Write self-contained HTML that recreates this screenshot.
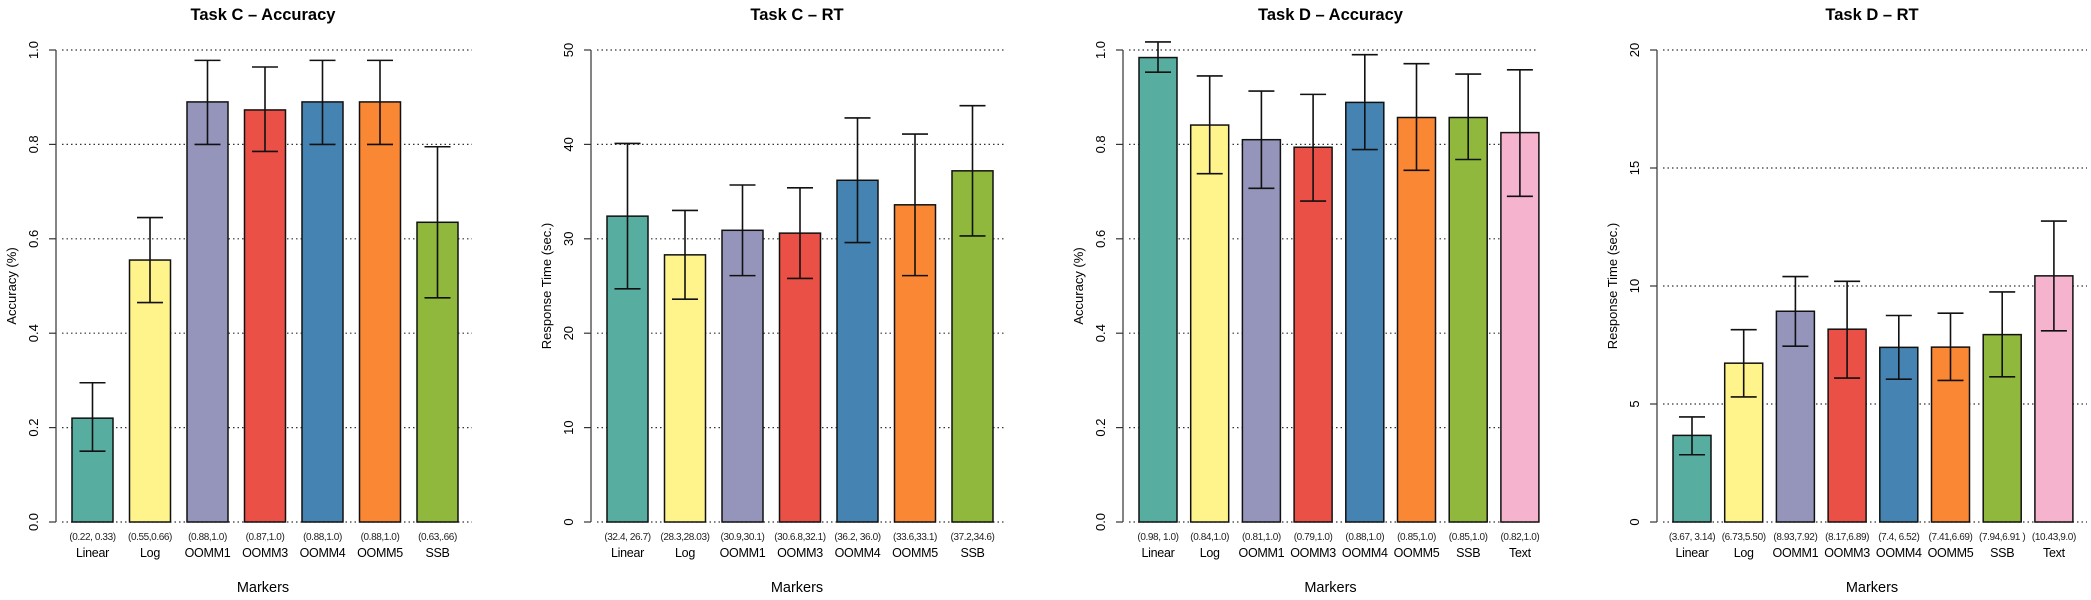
<!DOCTYPE html>
<html><head><meta charset="utf-8"><style>
html,body{margin:0;padding:0;background:#fff}
svg{display:block;font-family:"Liberation Sans",sans-serif}
</style></head><body>
<svg id="chart" width="2091" height="600" viewBox="0 0 2091 600"></svg>
<script>
const NS="http://www.w3.org/2000/svg";
const colors=["#58ADA1","#FFF38C","#9595BB","#EA5045","#4584B2","#F98734","#8FB83C","#F6B3CE"];
const catsC=["Linear","Log","OOMM1","OOMM3","OOMM4","OOMM5","SSB"];
const catsD=["Linear","Log","OOMM1","OOMM3","OOMM4","OOMM5","SSB","Text"];
const accCVals=[0.22,0.555,0.89,0.873,0.89,0.89,0.635];
const accCLo=[0.15,0.465,0.80,0.785,0.80,0.80,0.475];
const accCHi=[0.295,0.645,0.978,0.964,0.978,0.978,0.795];
const accCNotes=["(0.22, 0.33)","(0.55,0.66)","(0.88,1.0)","(0.87,1.0)","(0.88,1.0)","(0.88,1.0)","(0.63,.66)"];
const rtCVals=[32.4,28.3,30.9,30.6,36.2,33.6,37.2];
const rtCLo=[24.7,23.6,26.1,25.8,29.6,26.1,30.3];
const rtCHi=[40.1,33.0,35.7,35.4,42.8,41.1,44.1];
const rtCNotes=["(32.4, 26.7)","(28.3,28.03)","(30.9,30.1)","(30.6.8,32.1)","(36.2, 36.0)","(33.6,33.1)","(37.2,34.6)"];
const accDVals=[0.984,0.841,0.81,0.794,0.889,0.857,0.857,0.825];
const accDLo=[0.953,0.738,0.707,0.68,0.789,0.745,0.768,0.69];
const accDHi=[1.017,0.945,0.913,0.906,0.99,0.971,0.949,0.958];
const accDNotes=["(0.98, 1.0)","(0.84,1.0)","(0.81,1.0)","(0.79,1.0)","(0.88,1.0)","(0.85,1.0)","(0.85,1.0)","(0.82,1.0)"];
const rtDVals=[3.67,6.73,8.93,8.17,7.4,7.41,7.94,10.43];
const rtDLo=[2.85,5.3,7.45,6.1,6.05,6.0,6.15,8.1];
const rtDHi=[4.45,8.15,10.4,10.2,8.75,8.85,9.75,12.75];
const rtDNotes=["(3.67, 3.14)","(6.73,5.50)","(8.93,7.92)","(8.17,6.89)","(7.4, 6.52)","(7.41,6.69)","(7.94,6.91 )","(10.43,9.0)"];
const ticksAcc=["0.0","0.2","0.4","0.6","0.8","1.0"];
const ticksRTC=["0","10","20","30","40","50"];
const ticksRTD=["0","5","10","15","20"];

const svg=document.getElementById("chart");
function mk(tag,attrs,parent,text){const e=document.createElementNS(NS,tag);for(const k in attrs)e.setAttribute(k,attrs[k]);if(text!==undefined)e.textContent=text;(parent||svg).appendChild(e);return e;}

const Y0=522,Y1=50;
function panel(id,title,ytitle,cats,vals,lo,hi,notes,ticks,ymax,axisX,gridEnd,step,bw){
  const g=mk("g",{},svg);
  
  
  const y=v=>Y0-(v/ymax)*(Y0-Y1);
  const bx=i=>axisX+16+i*step;
  const cx=(axisX+gridEnd)/2+ (cats.length===7?-1:0);
  const t=mk("text",{x:cx,y:20,"text-anchor":"middle","font-size":16.5,"font-weight":"bold"},g,title);
  
  
  ticks.forEach(tl=>{
    const v=parseFloat(tl),yy=y(v);
    const gl=mk("line",{x1:axisX+6,x2:gridEnd,y1:yy,y2:yy,stroke:"#333","stroke-width":1.2,"stroke-dasharray":"1.5,3"},g);
    
    
    mk("line",{x1:axisX-7,x2:axisX,y1:yy,y2:yy,stroke:"#333","stroke-width":1.2},g);
    const tt=mk("text",{x:0,y:0,transform:`translate(${axisX-18},${yy}) rotate(-90)`,"text-anchor":"middle","font-size":13},g,tl);
    
    
  });
  const ax=mk("line",{x1:axisX,x2:axisX,y1:Y0,y2:Y1,stroke:"#333","stroke-width":1.2},g);
  
  
  const yt=mk("text",{x:0,y:0,transform:`translate(${axisX-40},${(Y0+Y1)/2}) rotate(-90)`,"text-anchor":"middle","font-size":13},g,ytitle);
  
  
  cats.forEach((c,i)=>{
    const x=bx(i),top=y(vals[i]);
    const r=mk("rect",{x:x,y:top,width:bw,height:Y0-top,fill:colors[i],stroke:"#111","stroke-width":1.5},g);
    
    
    const m=x+bw/2,yl=y(lo[i]),yh=y(hi[i]);
    const e=mk("path",{d:`M${m},${yl}V${yh}M${m-13},${yh}H${m+13}M${m-13},${yl}H${m+13}`,stroke:"#111","stroke-width":1.6,fill:"none"},g);
    
    
    const n=mk("text",{x:m,y:540,"text-anchor":"middle","font-size":10,"fill":"#222","letter-spacing":"-0.4"},g,notes[i]);
    
    
    const l=mk("text",{x:m,y:557,"text-anchor":"middle","font-size":12.5,"letter-spacing":"-0.3"},g,c);
    
    
  });
  const xt=mk("text",{x:cx,y:592,"text-anchor":"middle","font-size":14.5},g,"Markers");
  
  
}
panel("task-c-accuracy","Task C – Accuracy","Accuracy (%)",catsC,accCVals,accCLo,accCHi,accCNotes,ticksAcc,1,56,472,57.5,41);
panel("task-c-rt","Task C – RT","Response Time (sec.)",catsC,rtCVals,rtCLo,rtCHi,rtCNotes,ticksRTC,50,591,1005,57.5,41);
panel("task-d-accuracy","Task D – Accuracy","Accuracy (%)",catsD,accDVals,accDLo,accDHi,accDNotes,ticksAcc,1,1123,1538,51.7,38);
panel("task-d-rt","Task D – RT","Response Time (sec.)",catsD,rtDVals,rtDLo,rtDHi,rtDNotes,ticksRTD,20,1657,2087,51.7,38);
</script>
</body></html>
